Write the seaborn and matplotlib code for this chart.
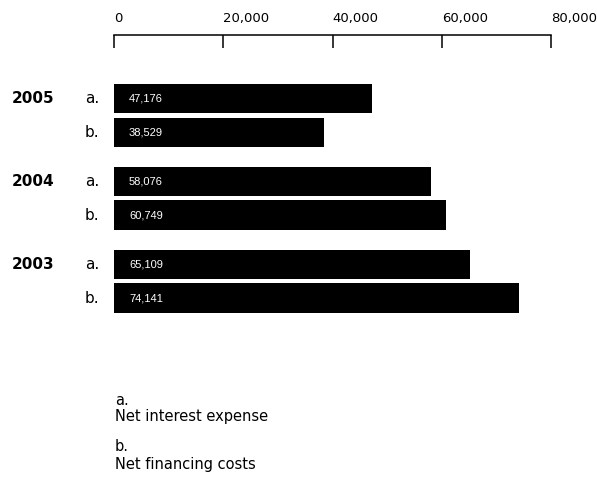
import pandas as pd
import matplotlib
matplotlib.use("Agg")
import matplotlib.pyplot as plt
from matplotlib import font_manager
from matplotlib.ticker import FuncFormatter
import seaborn as sns

# =========================
# Datos
# =========================
years = ["2005", "2004", "2003"]
series = ["a.", "b."]
net_interest_expense = [47176, 58076, 65109]   # a.
net_financing_costs = [38529, 60749, 74141]    # b.
x_ticks = [0, 20000, 40000, 60000, 80000]
legend_lines = ["a.", "Net interest expense", "b.", "Net financing costs"]

df = pd.DataFrame({
    "year": years * 2,
    "series": [series[0]] * 3 + [series[1]] * 3,
    "value": net_interest_expense + net_financing_costs,
})

# =========================
# Estilo
# =========================
sns.set_style("white")
plt.rcParams["font.family"] = ["DejaVu Sans"]

installed = {f.name for f in font_manager.fontManager.ttflist}
value_font = "Liberation Sans Narrow" if "Liberation Sans Narrow" in installed else "Liberation Sans"
value_size = 9 if value_font == "Liberation Sans Narrow" else 8

W, H = 597, 490
fig = plt.figure(figsize=(W / 100, H / 100), dpi=100)
ax_top, ax_bot = 35, 330
ax = fig.add_axes([114 / W, 1 - ax_bot / H, 437 / W, (ax_bot - ax_top) / H])

sns.barplot(
    data=df, x="value", y="year", hue="series", order=years, hue_order=series,
    orient="h", width=0.808, gap=0.12, palette=["black", "black"],
    saturation=1, linewidth=0, legend=False, ax=ax,
)

# escala: 82.9 px por grupo
px_per_unit = 82.9
ax.set_ylim((ax_bot - 115.5) / px_per_unit, (ax_top - 115.5) / px_per_unit)
ax.set_xlim(0, 80000)

# eje superior
ax.set_xticks(x_ticks)
ax.xaxis.set_major_formatter(FuncFormatter(lambda v, p: f"{v:,.0f}"))
ax.tick_params(axis="x", top=True, labeltop=True, bottom=False, labelbottom=False,
               direction="in", length=9.4, width=1.1, pad=7, labelsize=9.5, colors="black")
for lbl in ax.get_xticklabels():
    lbl.set_horizontalalignment("left")
ax.tick_params(axis="y", left=False, labelleft=False)
for side in ["left", "right", "bottom"]:
    ax.spines[side].set_visible(False)
ax.spines["top"].set_visible(True)
ax.spines["top"].set_linewidth(1.1)
ax.spines["top"].set_color("black")
ax.set_xlabel("")
ax.set_ylabel("")

# etiquetas de valores, a./b. y años
bars = sorted(ax.patches, key=lambda b: b.get_y())
for i, bar in enumerate(bars):
    yc = bar.get_y() + bar.get_height() / 2
    ax.annotate(f"{bar.get_width():,.0f}", xy=(0, yc), xytext=(15, 0),
                textcoords="offset pixels", ha="left", va="center",
                color="white", fontsize=value_size, family=value_font)
    ax.annotate(series[i % 2], xy=(0, yc), xytext=(-29, 0),
                textcoords="offset pixels", ha="left", va="center",
                color="black", fontsize=11, annotation_clip=False)
    if i % 2 == 0:
        ax.annotate(years[i // 2], xy=(0, yc), xytext=(-102, 0),
                    textcoords="offset pixels", ha="left", va="center",
                    color="black", fontsize=11, fontweight="bold",
                    annotation_clip=False)

# leyenda de texto
legend_y = [400, 416, 446, 464]
for txt, yp in zip(legend_lines, legend_y):
    fig.text(115 / W, 1 - yp / H, txt, ha="left", va="center", fontsize=10.5, color="black")

fig.savefig("out.png", dpi=100)
